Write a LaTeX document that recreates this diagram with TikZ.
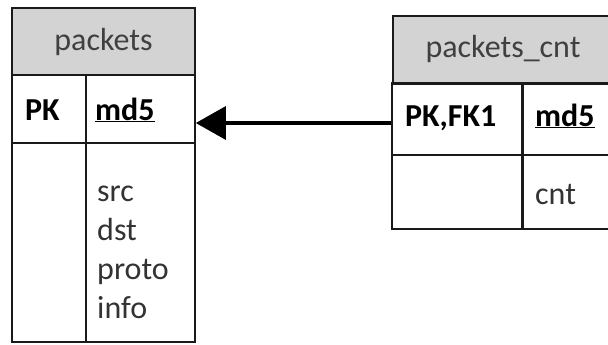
\documentclass[tikz,border=0pt]{standalone}
\usepackage{fontspec}
\setmainfont{Carlito}
\usetikzlibrary{arrows.meta}
\definecolor{hdrfill}{HTML}{D3D3D3}
\definecolor{hdrtext}{HTML}{404040}
\definecolor{bodytext}{HTML}{333333}
\definecolor{edge}{HTML}{1A1A1A}
\newcommand\tblsize{\fontsize{32}{39}\selectfont}
\newcommand\keyline[1]{\underline{#1}}
\tikzset{
  cell/.style={draw=edge, line width=1.6pt, inner sep=0pt, rectangle},
  hdr/.style={cell, fill=hdrfill},
  hdrtxt/.style={inner sep=0pt, text=hdrtext, font=\tblsize},
  keytxt/.style={anchor=base west, inner sep=0pt, font=\tblsize\bfseries, text=black},
  coltxt/.style={anchor=base west, inner sep=0pt, text=bodytext, font=\tblsize},
  fk/.style={draw=black, line width=3.2pt, -{Triangle[length=30pt,width=33pt]}}
}
\begin{document}
\begin{tikzpicture}[x=1pt, y=-1pt]
\useasboundingbox (0,0) rectangle (608,345);
\clip (0,0) rectangle (608,345);

% table: packets
\node[hdr, minimum width=183pt, minimum height=67pt] (phead) at (103.5,41.5) {};
\node[hdrtxt] (phtxt) at (phead.center) {packets};
\node[cell, minimum width=74pt, minimum height=68pt] (pkey) at (49,109) {};
\node[cell, minimum width=109pt, minimum height=68pt] (pkeycol) at (140.5,109) {};
\node[cell, minimum width=74pt, minimum height=199pt] (pbody) at (49,242.5) {};
\node[cell, minimum width=109pt, minimum height=199pt] (pbodycol) at (140.5,242.5) {};
\node[keytxt] (pkt) at (25,120) {PK};
\node[keytxt] (pmd) at (95,120) {\keyline{md5}};
\node[coltxt] (psrc) at (97,201) {src};
\node[coltxt] (pdst) at (97,240) {dst};
\node[coltxt] (pproto) at (97,279) {proto};
\node[coltxt] (pinfo) at (97,318) {info};

% table: packets_cnt
\node[hdr, minimum width=240pt, minimum height=68pt, anchor=north west] (chead) at (392,15) {};
\node[hdrtxt] (chtxt) at (503,49) {packets\_cnt};
\node[cell, minimum width=130pt, minimum height=72pt] (ckey) at (457,119) {};
\node[cell, minimum width=110pt, minimum height=72pt, anchor=west] (ckeycol) at (ckey.east) {};
\node[cell, minimum width=130pt, minimum height=74pt] (cbody) at (457,192) {};
\node[cell, minimum width=110pt, minimum height=74pt, anchor=west] (cbodycol) at (cbody.east) {};
\node[keytxt] (ckt) at (405,126) {PK,FK1};
\node[keytxt] (cmd) at (535,126) {\keyline{md5}};
\node[coltxt] (ccol) at (535,204) {cnt};

% foreign key reference
\coordinate (fkstart) at ([yshift=-4pt]ckey.west);
\draw[fk] (fkstart) -- (pkeycol.east |- fkstart);
\end{tikzpicture}
\end{document}
